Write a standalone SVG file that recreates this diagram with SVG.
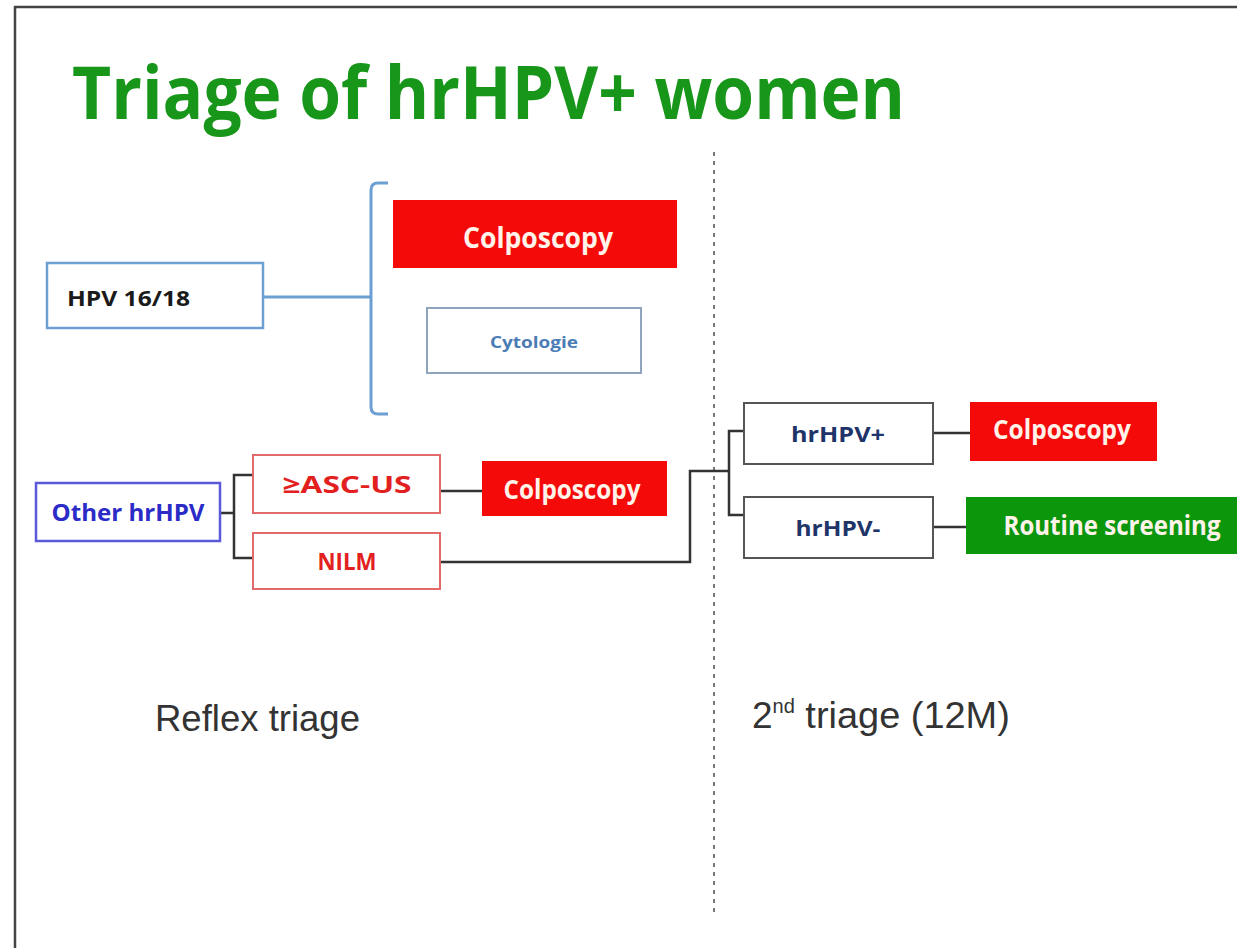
<svg xmlns="http://www.w3.org/2000/svg" width="1237" height="948" viewBox="0 0 1237 948">
<style>
.t{font-family:"Open Sans","Liberation Sans",sans-serif;font-weight:bold;text-anchor:middle}
.plain{font-family:"Liberation Sans",Arial,sans-serif;fill:#333}
.red{fill:#f50a0a}
.wt{fill:#fff3ea;font-size:26px}
.blk{stroke:#333;stroke-width:2.5;fill:none}
.gbox{fill:#fff;stroke:#555;stroke-width:2}
</style>
<rect x="0" y="0" width="1237" height="948" fill="#fff"/>
<path d="M15 948 V7 H1237" fill="none" stroke="#444" stroke-width="2.5"/>
<text x="72" y="119" font-family="Open Sans,Liberation Sans,sans-serif" font-weight="bold" font-size="74" fill="#17961a" textLength="833" lengthAdjust="spacingAndGlyphs">Triage of hrHPV+ women</text>
<line x1="714" y1="152" x2="714" y2="912" stroke="#777" stroke-width="2" stroke-dasharray="4 5"/>
<g id="connectors">
<path d="M263 297 H370" stroke="#6c9fd2" stroke-width="3" fill="none"/>
<path d="M388 183 H378 Q371 183 371 190 V407 Q371 414 378 414 H388" stroke="#6c9fd2" stroke-width="3" fill="none"/>
<path class="blk" d="M220 513 H234 M253 475 H234 V558 H253"/>
<path class="blk" d="M440 491 H482" stroke-width="3.5"/>
<path class="blk" d="M440 562 H690 V471 H728"/>
<path class="blk" d="M744 431 H729 V515 H744"/>
<path class="blk" d="M933 433 H970 M933 527 H966"/>
</g>
<g id="hpv1618">
<rect x="47" y="263" width="216" height="65" fill="#fff" stroke="#6c9fd2" stroke-width="2.5"/>
<text x="67" y="306" font-family="Open Sans,Liberation Sans,sans-serif" font-weight="bold" font-size="21" fill="#1a1a1a" textLength="123" lengthAdjust="spacingAndGlyphs">HPV 16/18</text>
</g>
<g id="colpo1">
<rect x="393" y="200" width="284" height="68" class="red"/>
<text class="t wt" x="538" y="248" style="font-size:28px" textLength="150" lengthAdjust="spacingAndGlyphs">Colposcopy</text>
</g>
<g id="cytologie">
<rect x="427" y="308" width="214" height="65" fill="#fff" stroke="#8fa5bd" stroke-width="2"/>
<text class="t" x="534" y="348" font-size="16" fill="#4a7cb5" textLength="88" lengthAdjust="spacingAndGlyphs">Cytologie</text>
</g>
<g id="otherhrhpv">
<rect x="36" y="483" width="184" height="58" fill="#fff" stroke="#5a5ad8" stroke-width="2.5"/>
<text class="t" x="128" y="521" font-size="23" fill="#2b2bc8" textLength="153" lengthAdjust="spacingAndGlyphs">Other hrHPV</text>
</g>
<g id="ascus">
<rect x="253" y="455" width="187" height="58" fill="#fff" stroke="#e36a6a" stroke-width="2"/>
<text class="t" x="347" y="493" font-size="24" fill="#e32020" textLength="129" lengthAdjust="spacingAndGlyphs">≥ASC-US</text>
</g>
<g id="nilm">
<rect x="253" y="533" width="187" height="56" fill="#fff" stroke="#e36a6a" stroke-width="2"/>
<text class="t" x="347" y="570" font-size="24" fill="#e32020" textLength="59" lengthAdjust="spacingAndGlyphs">NILM</text>
</g>
<g id="colpo2">
<rect x="482" y="461" width="185" height="55" class="red"/>
<text class="t wt" x="572" y="499" textLength="137" lengthAdjust="spacingAndGlyphs">Colposcopy</text>
</g>
<g id="hrhpvpos">
<rect x="744" y="403" width="189" height="61" class="gbox"/>
<text class="t" x="838" y="442" font-size="22" fill="#1f3569" textLength="94" lengthAdjust="spacingAndGlyphs">hrHPV+</text>
</g>
<g id="hrhpvneg">
<rect x="744" y="497" width="189" height="61" class="gbox"/>
<text class="t" x="838" y="536" font-size="22" fill="#1f3569" textLength="85" lengthAdjust="spacingAndGlyphs">hrHPV-</text>
</g>
<g id="colpo3">
<rect x="970" y="402" width="187" height="59" class="red"/>
<text class="t wt" x="1062" y="439" textLength="138" lengthAdjust="spacingAndGlyphs">Colposcopy</text>
</g>
<g id="routine">
<rect x="966" y="497" width="271" height="57" fill="#0c960c"/>
<text class="t wt" x="1112" y="535" textLength="217" lengthAdjust="spacingAndGlyphs">Routine screening</text>
</g>
<text class="plain" x="155" y="731" font-size="37" textLength="205" lengthAdjust="spacingAndGlyphs">Reflex triage</text>
<text class="plain" x="752" y="728" font-size="37">2<tspan font-size="20" dy="-15">nd</tspan><tspan dy="15" textLength="215" lengthAdjust="spacingAndGlyphs"> triage (12M)</tspan></text>
</svg>
